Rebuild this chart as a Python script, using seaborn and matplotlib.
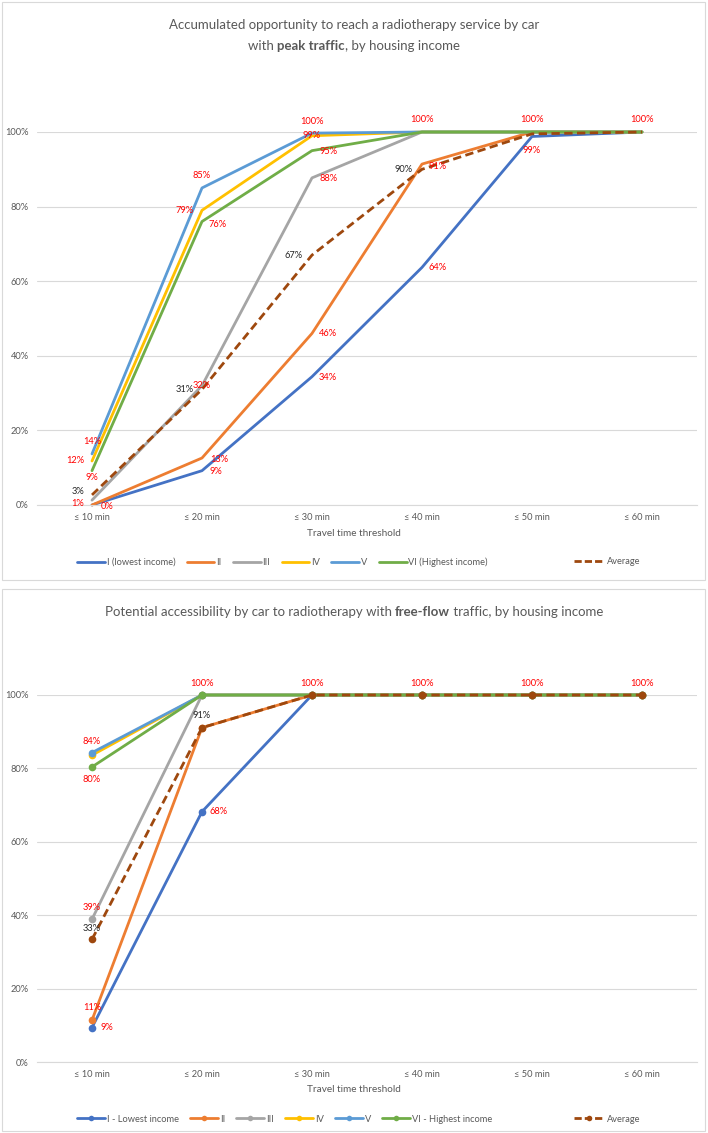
import numpy as np
import pandas as pd
import matplotlib
matplotlib.use("Agg")
import matplotlib.pyplot as plt
from matplotlib.lines import Line2D
from matplotlib.patches import Rectangle
from matplotlib.ticker import FuncFormatter
import seaborn as sns

# Datos
thresholds = ["≤ 10 min", "≤ 20 min", "≤ 30 min", "≤ 40 min", "≤ 50 min", "≤ 60 min"]

peak_names = ["I (lowest income)", "II", "III", "IV", "V", "VI (Highest income)", "Average"]
peak_i = [0.000, 0.092, 0.344, 0.637, 0.988, 1.000]
peak_ii = [0.000, 0.126, 0.460, 0.914, 1.000, 1.000]
peak_iii = [0.013, 0.320, 0.877, 1.000, 1.000, 1.000]
peak_iv = [0.118, 0.790, 0.990, 1.000, 1.000, 1.000]
peak_v = [0.137, 0.850, 0.997, 1.000, 1.000, 1.000]
peak_vi = [0.092, 0.760, 0.950, 1.000, 1.000, 1.000]
peak_avg = [0.027, 0.310, 0.670, 0.900, 0.995, 1.000]

free_names = ["I - Lowest income", "II", "III", "IV", "V", "VI - Highest income", "Average"]
free_i = [0.094, 0.682, 1.000, 1.000, 1.000, 1.000]
free_ii = [0.114, 0.911, 1.000, 1.000, 1.000, 1.000]
free_iii = [0.389, 1.000, 1.000, 1.000, 1.000, 1.000]
free_iv = [0.836, 1.000, 1.000, 1.000, 1.000, 1.000]
free_v = [0.843, 1.000, 1.000, 1.000, 1.000, 1.000]
free_vi = [0.804, 1.000, 1.000, 1.000, 1.000, 1.000]
free_avg = [0.334, 0.911, 1.000, 1.000, 1.000, 1.000]

# Etiquetas de datos: (índice de serie, índice de umbral)
peak_labels = [(4, 0), (3, 0), (5, 0), (6, 0), (2, 0), (0, 0),
               (4, 1), (3, 1), (5, 1), (6, 1), (2, 1), (1, 1), (0, 1),
               (4, 2), (3, 2), (5, 2), (2, 2), (6, 2), (1, 2), (0, 2),
               (4, 3), (6, 3), (1, 3), (0, 3),
               (4, 4), (0, 4), (4, 5)]
free_labels = [(4, 0), (5, 0), (2, 0), (6, 0), (1, 0), (0, 0),
               (4, 1), (6, 1), (0, 1),
               (4, 2), (4, 3), (4, 4), (4, 5)]

# Desplazamiento de cada etiqueta en píxeles (estilo, no datos)
peak_offsets = [(0, 12), (-17, 0), (0, -7), (-14, 3), (-14, -3), (15, -2),
                (0, 12), (-17, 0), (16, -3), (-17, 0), (0, 0), (17, -1), (14, -1),
                (0, 12), (0, 0), (17, -1), (17, -1), (-18, 0), (16, 0), (16, -1),
                (0, 12), (-18, 0), (16, -2), (16, 0),
                (0, 12), (0, -14), (0, 12)]
free_offsets = [(0, 11), (0, -13), (0, 12), (0, 11), (0, 13), (15, 0),
                (0, 12), (0, 12), (17, 0),
                (0, 12), (0, 12), (0, 12), (0, 12)]

colors = ["#4472C4", "#ED7D31", "#A5A5A5", "#FFC000", "#5B9BD5", "#70AD47", "#9E480E"]
W, H = 708, 1133
GRIS = "#595959"
FUENTE = "Lato"

sns.set_style("white")
plt.rcParams["font.family"] = [FUENTE, "DejaVu Sans"]


def armar_df(nombres, series):
    filas = []
    for nombre, valores in zip(nombres, series):
        for t, v in zip(thresholds, valores):
            filas.append({"threshold": t, "share": v, "series": nombre})
    return pd.DataFrame(filas)


def titulo_mixto(fig, y_px, partes, size):
    renderer = fig.canvas.get_renderer()
    textos = []
    anchos = []
    for s, peso in partes:
        t = fig.text(0, 1 - y_px / H, s, fontsize=size, fontweight=peso,
                     color=GRIS, ha="left", va="center")
        textos.append(t)
        anchos.append(t.get_window_extent(renderer).width)
    x = (W - sum(anchos)) / 2
    for t, w in zip(textos, anchos):
        t.set_x(x / W)
        x += w


def panel(fig, rect, nombres, series, labels, offsets, con_marcadores, y_pie):
    ax = fig.add_axes(rect)
    df = armar_df(nombres, series)
    paleta = dict(zip(nombres, colors))
    estilos = {n: (3, 1.6) if n == "Average" else "" for n in nombres}
    marcas = {n: "o" for n in nombres} if con_marcadores else False
    sns.lineplot(data=df, x="threshold", y="share", hue="series", style="series",
                 palette=paleta, dashes=estilos, markers=marcas, sort=False,
                 linewidth=2, markersize=5.5, markeredgewidth=0, legend=False, ax=ax)
    for ln in ax.lines:
        ln.set_clip_on(False)

    ax.set_xlim(-0.5, 5.5)
    ax.set_ylim(0, 1)
    ax.set_yticks(np.arange(0, 1.01, 0.2))
    ax.yaxis.set_major_formatter(FuncFormatter(lambda v, p: f"{v:.0%}"))
    ax.grid(axis="y", color="#D9D9D9", linewidth=0.8)
    ax.grid(axis="x", visible=False)
    for lado in ["top", "left", "right"]:
        ax.spines[lado].set_visible(False)
    ax.spines["bottom"].set_color("#D9D9D9")
    ax.spines["bottom"].set_linewidth(0.8)
    ax.tick_params(axis="both", length=0, labelsize=6.7, labelcolor=GRIS)
    ax.tick_params(axis="y", pad=6)
    ax.tick_params(axis="x", pad=6)
    ax.set_xlabel("")
    ax.set_ylabel("")

    for (si, ti), (dx, dy) in zip(labels, offsets):
        v = series[si][ti]
        col = "#262626" if nombres[si] == "Average" else "#FF0000"
        ax.annotate(f"{round(v * 100)}%", (ti, v), xytext=(dx, dy),
                    textcoords="offset pixels", ha="center", va="center",
                    fontsize=6.7, color=col, annotation_clip=False, zorder=10)

    fig.text(0.5, 1 - (y_pie + 16) / H, "Travel time threshold", ha="center",
             va="center", fontsize=7.2, color=GRIS)

    handles = [Line2D([], [], color=c, lw=2, marker="o" if con_marcadores else None,
                      markersize=4, markeredgewidth=0)
               for c in colors[:6]]
    leg = fig.legend(handles, nombres[:6], loc="center left", ncol=6,
                     bbox_to_anchor=(77 / W, 1 - (y_pie + 45) / H), frameon=False,
                     fontsize=6.7, handlelength=3.0, handletextpad=0.2,
                     columnspacing=1.2, borderpad=0, borderaxespad=0)
    for t in leg.get_texts():
        t.set_color(GRIS)
    h_avg = Line2D([], [], color=colors[6], lw=2, linestyle=(0, (2.6, 1.1)),
                   marker="o" if con_marcadores else None, markersize=4,
                   markeredgewidth=0)
    leg2 = fig.legend([h_avg], ["Average"], loc="center left",
                      bbox_to_anchor=(574 / W, 1 - (y_pie + 45) / H), frameon=False,
                      fontsize=6.7, handlelength=3.2, handletextpad=0.3,
                      borderpad=0, borderaxespad=0)
    for t in leg2.get_texts():
        t.set_color(GRIS)
    return ax


fig = plt.figure(figsize=(W / 100, H / 100), dpi=100)
fig.patch.set_facecolor("white")

# marcos de los dos paneles
fig.patches.append(Rectangle((2 / W, 1 - 580 / H), 703 / W, 578 / H, fill=False,
                             edgecolor="#D9D9D9", linewidth=0.8, transform=fig.transFigure))
fig.patches.append(Rectangle((2 / W, 1 - 1131 / H), 703 / W, 542 / H, fill=False,
                             edgecolor="#D9D9D9", linewidth=0.8, transform=fig.transFigure))

peak_series = [peak_i, peak_ii, peak_iii, peak_iv, peak_v, peak_vi, peak_avg]
free_series = [free_i, free_ii, free_iii, free_iv, free_v, free_vi, free_avg]

panel(fig, [37 / W, 1 - 505 / H, 660 / W, 373 / H], peak_names, peak_series,
      peak_labels, peak_offsets, False, 517)
panel(fig, [37 / W, 1 - 1062 / H, 660 / W, 367 / H], free_names, free_series,
      free_labels, free_offsets, True, 1074)

titulo_mixto(fig, 25, [("Accumulated opportunity to reach a radiotherapy service by car", "normal")], 9.5)
titulo_mixto(fig, 46, [("with ", "normal"), ("peak traffic", "bold"),
                       (", by housing income", "normal")], 9.5)
titulo_mixto(fig, 612, [("Potential accessibility by car to radiotherapy with ", "normal"),
                        ("free-flow", "bold"), (" traffic, by housing income", "normal")], 9.5)

fig.savefig("out.png", dpi=100)
